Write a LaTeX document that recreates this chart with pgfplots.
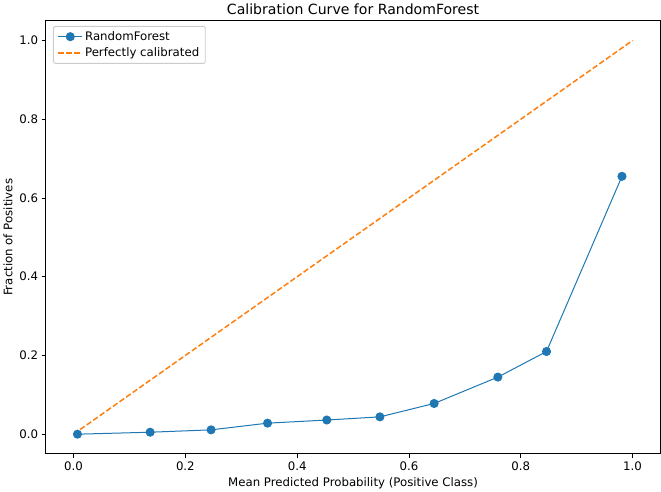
\documentclass[border=0pt]{standalone}
\usepackage{pgfplots}
\pgfplotsset{compat=1.18}
\usepackage{fontspec}
\setmainfont{DejaVu Sans}
\definecolor{tabblue}{HTML}{1F77B4}
\definecolor{taborange}{HTML}{FF7F0E}
\begin{document}
\begin{tikzpicture}
\begin{axis}[
  scale only axis,
  width=612pt, height=431pt,
  xmin=-0.05, xmax=1.05, ymin=-0.05, ymax=1.05,
  xtick={0,0.2,0.4,0.6,0.8,1.0},
  ytick={0,0.2,0.4,0.6,0.8,1.0},
  tick align=outside, tick pos=left,
  major tick length=4pt,
  tick style={black, line width=0.9pt},
  axis line style={line width=0.9pt},
  /pgf/number format/assume math mode=true,
  /pgf/number format/fixed, /pgf/number format/fixed zerofill, /pgf/number format/precision=1,
  ticklabel style={font=\fontsize{11.7}{14}\selectfont},
  xlabel={Mean Predicted Probability (Positive Class)},
  ylabel={Fraction of Positives},
  label style={font=\fontsize{11.7}{14}\selectfont},
  title={Calibration Curve for RandomForest},
  title style={font=\fontsize{14}{16}\selectfont, yshift=-3pt},
  legend style={font=\fontsize{11.7}{14}\selectfont, draw=black!20, rounded corners=2pt, line width=0.9pt, inner xsep=4pt, inner ysep=3pt, row sep=2pt, at={(0.012,0.988)}, anchor=north west},
  legend cell align=left,
  legend image code/.code={\draw[mark repeat=2,mark phase=2,#1] plot coordinates {(0pt,0pt) (12pt,0pt) (24pt,0pt)};},
]
\addplot[color=tabblue, line width=1pt, mark=*, mark size=4pt, mark options={fill=tabblue, draw=tabblue}] coordinates {
(0.007,0.0) (0.137,0.005) (0.246,0.011) (0.347,0.028) (0.453,0.036)
(0.548,0.044) (0.645,0.078) (0.759,0.145) (0.846,0.210) (0.981,0.655)
};
\addlegendentry{RandomForest}
\addplot[color=taborange, line width=1.5pt, dash pattern=on 5.5pt off 2.5pt] coordinates {(0,0) (1,1)};
\addlegendentry{Perfectly calibrated}
\end{axis}
\end{tikzpicture}
\end{document}
